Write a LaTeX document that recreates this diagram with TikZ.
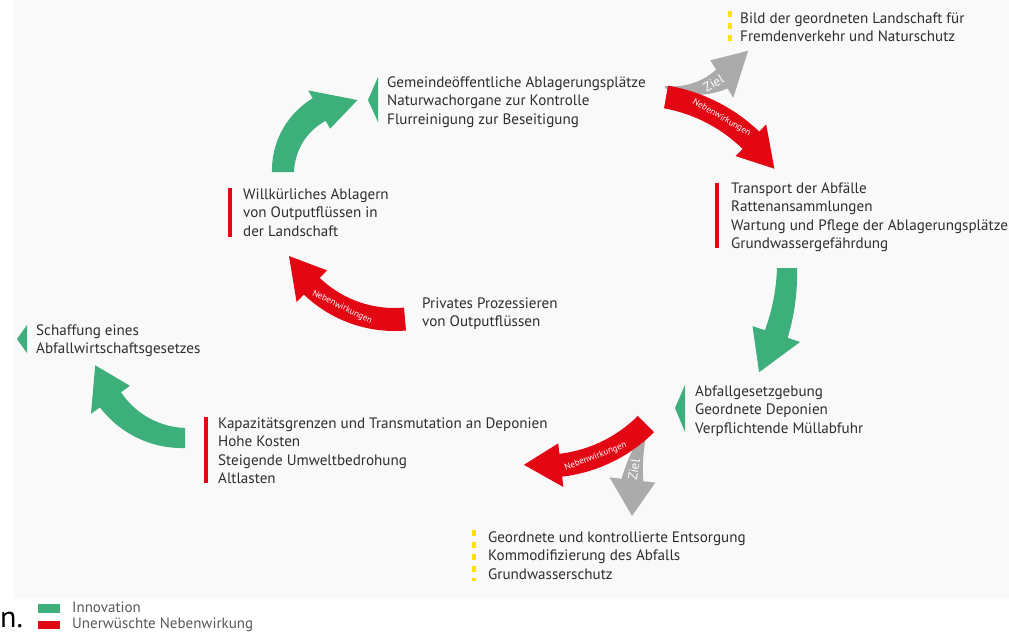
\documentclass[tikz,border=0pt]{standalone}
\usepackage{fontspec}
\setmainfont{PT Sans}
\definecolor{ingreen}{HTML}{3DAF7B}
\definecolor{nbred}{HTML}{E30613}
\definecolor{zgray}{HTML}{ABABAB}
\definecolor{zyellow}{HTML}{FFE100}
\definecolor{txt}{HTML}{2E2E2E}
\definecolor{bgc}{HTML}{F9F9F9}
\def\hw{22}
% #1 colour, #2 cx, #3 cy, #4 r, #5 a1, #6 a2, #7 w1, #8 w2, #9 head length
\newcommand\curvarrow[9]{%
  \pgfmathsetmacro\dh{#9/#4*180/pi}%
  \pgfmathsetmacro\sg{sign(#6-#5)}%
  \pgfmathsetmacro\am{#6-\sg*\dh}%
  \fill[#1] plot[variable=\t,domain=#5:\am,samples=40]
      ({#2+(#4+(#7+(#8-#7)*(\t-#5)/(\am-#5))/2)*cos(\t)},{#3+(#4+(#7+(#8-#7)*(\t-#5)/(\am-#5))/2)*sin(\t)})
    -- ({#2+(#4+\hw)*cos(\am)},{#3+(#4+\hw)*sin(\am)})
    -- ({#2+#4*cos(#6)},{#3+#4*sin(#6)})
    -- ({#2+(#4-\hw)*cos(\am)},{#3+(#4-\hw)*sin(\am)})
    -- plot[variable=\t,domain=\am:#5,samples=40]
      ({#2+(#4-(#7+(#8-#7)*(\t-#5)/(\am-#5))/2)*cos(\t)},{#3+(#4-(#7+(#8-#7)*(\t-#5)/(\am-#5))/2)*sin(\t)})
    -- cycle;}
\newcommand\txtblock[4]{%
  \foreach \ln [count=\i from 0] in {#4}{\node[body] (#1-\i) at (#2,{#3+18.5*\i}) {\ln};}}
\tikzset{
  body/.style={anchor=base west,inner sep=0pt,text=txt,font=\fontsize{15.1}{17}\selectfont},
  nblabel/.style={text=white,inner sep=0pt,font=\fontsize{9}{10}\selectfont},
  zlabel/.style={text=white,inner sep=0pt,font=\fontsize{13}{15}\selectfont},
  redbar/.style={draw=nbred,line width=4.5pt},
  yelbar/.style={draw=zyellow,line width=4pt,dash pattern=on 6pt off 6pt},
  legtext/.style={anchor=base west,inner sep=0pt,text=txt!80,font=\fontsize{15}{17}\selectfont}
}
\begin{document}
\begin{tikzpicture}[x=1pt,y=-1pt]
\useasboundingbox (0,0) rectangle (1009,633);
\fill[white] (0,0) rectangle (1009,633);
\fill[bgc] (14,0) rectangle (1009,598);

% gray "Ziel" arrows (below the red ones)
\def\hw{22}
\curvarrow{zgray}{684.2}{17.6}{72}{105.5}{27.5}{2}{22}{39}
\def\hw{23}
\curvarrow{zgray}{809.3}{500.4}{178}{202.6}{175}{4}{22}{36}
% red arrows
\def\hw{22}
\curvarrow{nbred}{637.7}{257.5}{163}{280}{327}{23}{24}{37}
\def\hw{22}
\curvarrow{nbred}{394.6}{199.9}{119.6}{85}{152}{23}{23}{38}
\curvarrow{nbred}{544}{322}{144.2}{45}{98}{23}{23}{37}
% green arrows
\def\hw{22}
\curvarrow{ingreen}{355}{172}{72}{180}{272}{22}{26}{40}
\def\hw{25}
\curvarrow{ingreen}{578.4}{268}{208.6}{0}{30}{20}{24}{42}
\def\hw{24}
\curvarrow{ingreen}{185}{346.2}{91.8}{90}{168}{20}{26}{38}

% arrow labels
\node[nblabel,rotate=-30] (nb1) at ({637.7+163*cos(301)},{257.5+163*sin(301)}) {Nebenwirkungen};
\node[nblabel,rotate=-26] (nb2) at ({394.6+119.6*cos(116)},{199.9+119.6*sin(116)}) {Nebenwirkungen};
\node[nblabel,rotate=21] (nb3) at ({544+144.2*cos(69)},{322+144.2*sin(69)}) {Nebenwirkungen};
\node[zlabel,rotate=30] (z1) at ({684.2+72*cos(66)},{17.6+72*sin(66)}) {Ziel};
\node[zlabel,rotate=81] (z2) at ({809.3+178*cos(190)},{500.4+178*sin(190)}) {Ziel};

% markers
\fill[ingreen] (378,77) -- (368,100) -- (378,122) -- cycle;
\fill[ingreen] (685,385) -- (675,408) -- (685,432) -- cycle;
\fill[ingreen] (27,325) -- (17,339) -- (27,353) -- cycle;
\draw[redbar] (717,183) -- (717,248);
\draw[redbar] (230,188) -- (230,237);
\draw[redbar] (206,417) -- (206,483);
\draw[yelbar] (730,11) -- (730,41);
\draw[yelbar] (474,530) -- (474,581);

% texts
\txtblock{top}{387}{87}{Gemeindeöffentliche Ablagerungsplätze,Naturwachorgane zur Kontrolle,Flurreinigung zur Beseitigung}
\txtblock{bild}{740}{23}{Bild der geordneten Landschaft für,Fremdenverkehr und Naturschutz}
\txtblock{trans}{731}{193}{Transport der Abfälle,Rattenansammlungen,Wartung und Pflege der Ablagerungsplätze,Grundwassergefährdung}
\txtblock{will}{243}{199}{Willkürliches Ablagern,von Outputflüssen in,der Landschaft}
\txtblock{priv}{422}{308}{Privates Prozessieren,von Outputflüssen}
\txtblock{schaf}{36}{335}{Schaffung eines,Abfallwirtschaftsgesetzes}
\txtblock{kap}{218}{428}{Kapazitätsgrenzen und Transmutation an Deponien,Hohe Kosten,Steigende Umweltbedrohung,Altlasten}
\txtblock{abf}{695}{396}{Abfallgesetzgebung,Geordnete Deponien,Verpflichtende Müllabfuhr}
\txtblock{geo}{488}{542}{Geordnete und kontrollierte Entsorgung,Kommodifizierung des Abfalls,Grundwasserschutz}

% legend
\node[anchor=base west,inner sep=0pt,font=\fontsize{30}{30}\selectfont] (cut) at (0,627) {n.};
\fill[ingreen] (38,604) rectangle (60,613);
\fill[nbred] (38,621) rectangle (60,629);
\node[legtext] (leg1) at (72,612) {Innovation};
\node[legtext] (leg2) at (72,628.5) {Unerwüschte Nebenwirkung};
\end{tikzpicture}
\end{document}
